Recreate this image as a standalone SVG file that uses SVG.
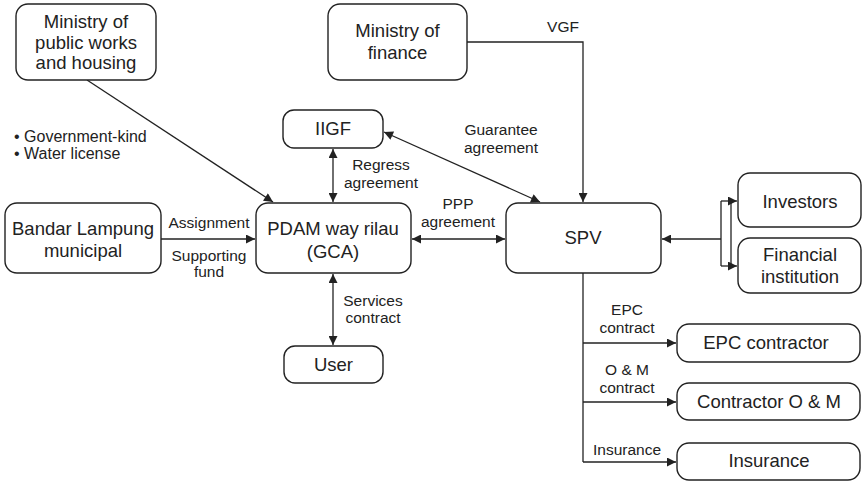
<svg xmlns="http://www.w3.org/2000/svg" width="862" height="482" viewBox="0 0 862 482">
<style>
.box{fill:#fff;stroke:#222;stroke-width:1.4}
.t{font-family:"Liberation Sans",Arial,sans-serif;font-size:18.5px;fill:#222;text-anchor:middle}
.l{font-family:"Liberation Sans",Arial,sans-serif;font-size:15.5px;fill:#222;text-anchor:middle}
.b{font-family:"Liberation Sans",Arial,sans-serif;font-size:16px;fill:#222}
.c{fill:none;stroke:#222;stroke-width:1.3}
</style>
<defs>
<marker id="ah" viewBox="0 0 10 10" refX="10" refY="5" markerWidth="10" markerHeight="9" markerUnits="userSpaceOnUse" orient="auto-start-reverse"><path d="M0,0 L10,5 L0,10 z" fill="#222"/></marker>
</defs>
<rect width="862" height="482" fill="#fff"/>
<g id="connectors">
<path class="c" d="M87,80 L273,202" marker-end="url(#ah)"/>
<path class="c" d="M467,42 L583,42 L583,202" marker-end="url(#ah)"/>
<path class="c" d="M384,132 L540,202" marker-start="url(#ah)" marker-end="url(#ah)"/>
<path class="c" d="M333,149 L333,202" marker-start="url(#ah)" marker-end="url(#ah)"/>
<path class="c" d="M161,239 L255,239" marker-end="url(#ah)"/>
<path class="c" d="M333,274 L333,345" marker-start="url(#ah)" marker-end="url(#ah)"/>
<path class="c" d="M412,239 L505,239" marker-start="url(#ah)" marker-end="url(#ah)"/>
<path class="c" d="M721,239 L662,239" marker-end="url(#ah)"/>
<path class="c" d="M721,201 L721,266"/>
<path class="c" d="M731,201 L731,266"/>
<path class="c" d="M721,201 L737,201" marker-end="url(#ah)"/>
<path class="c" d="M721,266 L737,266" marker-end="url(#ah)"/>
<path class="c" d="M583,273 L583,462"/>
<path class="c" d="M583,343 L676,343" marker-end="url(#ah)"/>
<path class="c" d="M583,402 L676,402" marker-end="url(#ah)"/>
<path class="c" d="M583,462 L676,462" marker-end="url(#ah)"/>
<text class="l" x="563" y="32">VGF</text>
<text class="l" x="501" y="135">Guarantee</text>
<text class="l" x="501" y="153">agreement</text>
<text class="l" x="381" y="170">Regress</text>
<text class="l" x="381" y="188">agreement</text>
<text class="l" x="209" y="228">Assignment</text>
<text class="l" x="209" y="261">Supporting</text>
<text class="l" x="209" y="277">fund</text>
<text class="l" x="373" y="306">Services</text>
<text class="l" x="373" y="323">contract</text>
<text class="l" x="458" y="209">PPP</text>
<text class="l" x="458" y="227">agreement</text>
<text class="l" x="627" y="315">EPC</text>
<text class="l" x="627" y="333">contract</text>
<text class="l" x="627" y="375">O &amp; M</text>
<text class="l" x="627" y="393">contract</text>
<text class="l" x="627" y="455">Insurance</text>
<text class="b" x="14" y="142">• Government-kind</text>
<text class="b" x="14" y="159">• Water license</text>
</g>
<g id="ministry-public-works">
<rect class="box" x="16" y="4" width="140" height="76" rx="12"/>
<text class="t" x="86" y="28">Ministry of</text>
<text class="t" x="86" y="49">public works</text>
<text class="t" x="86" y="69">and housing</text>
</g>
<g id="ministry-finance">
<rect class="box" x="328" y="4" width="139" height="76" rx="12"/>
<text class="t" x="397.5" y="37">Ministry of</text>
<text class="t" x="397.5" y="59">finance</text>
</g>
<g id="iigf">
<rect class="box" x="283" y="110" width="100" height="38" rx="11"/>
<text class="t" x="333" y="135">IIGF</text>
</g>
<g id="bandar-lampung">
<rect class="box" x="5" y="203" width="156" height="70" rx="12"/>
<text class="t" x="83" y="235">Bandar Lampung</text>
<text class="t" x="83" y="257">municipal</text>
</g>
<g id="pdam">
<rect class="box" x="256" y="203" width="155" height="70" rx="12"/>
<text class="t" x="333" y="235">PDAM way rilau</text>
<text class="t" x="333" y="258">(GCA)</text>
</g>
<g id="user">
<rect class="box" x="284" y="346" width="99" height="37" rx="11"/>
<text class="t" x="333.5" y="371">User</text>
</g>
<g id="spv">
<rect class="box" x="506" y="203" width="155" height="70" rx="12"/>
<text class="t" x="583" y="244">SPV</text>
</g>
<g id="investors">
<rect class="box" x="738" y="173" width="123" height="54" rx="12"/>
<text class="t" x="800" y="208">Investors</text>
</g>
<g id="financial-institution">
<rect class="box" x="738" y="238" width="123" height="55" rx="12"/>
<text class="t" x="800" y="261">Financial</text>
<text class="t" x="800" y="283">institution</text>
</g>
<g id="epc-contractor">
<rect class="box" x="677" y="324" width="183" height="38" rx="12"/>
<text class="t" x="766" y="349">EPC contractor</text>
</g>
<g id="contractor-om">
<rect class="box" x="677" y="383" width="183" height="37" rx="12"/>
<text class="t" x="769" y="408">Contractor O &amp; M</text>
</g>
<g id="insurance">
<rect class="box" x="677" y="443" width="183" height="37" rx="12"/>
<text class="t" x="769" y="467">Insurance</text>
</g>
</svg>
